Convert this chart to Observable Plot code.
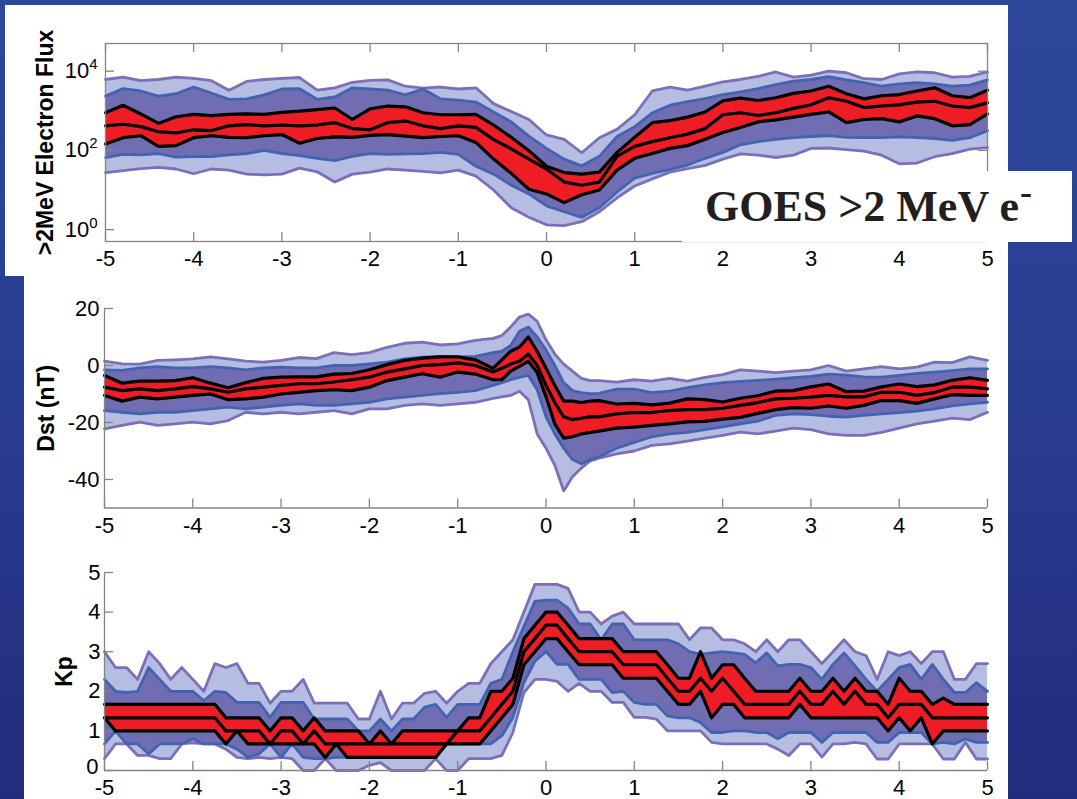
<!DOCTYPE html>
<html>
<head>
<meta charset="utf-8">
<script src="https://cdn.jsdelivr.net/npm/d3@7"></script>
<script src="https://cdn.jsdelivr.net/npm/@observablehq/plot@0.6"></script>
<style>
html,body{margin:0;padding:0;background:#26378a;}
#page{position:relative;width:1077px;height:799px;overflow:hidden;
  background:linear-gradient(180deg,#2e489c 0%,#293d90 50%,#212c7c 100%);
  font-family:"Liberation Sans",Arial,sans-serif;}
.white{position:absolute;background:#fff;}
.panel{position:absolute;left:0;}
#goes{position:absolute;left:682px;top:171px;width:390px;height:71px;background:#fff;
  font-family:"Liberation Serif","Times New Roman",serif;font-weight:bold;font-size:44px;
  color:#231f20;line-height:71px;padding-left:23px;box-sizing:border-box;white-space:nowrap;}
#goes .sup{font-size:36px;position:relative;top:-17px;margin-left:1px;}
</style>
</head>
<body>
<div id="page">
  <div class="white" style="left:5px;top:5px;width:1003px;height:271px"></div>
  <div class="white" style="left:24px;top:276px;width:984px;height:523px"></div>
  <div class="panel" id="p1" style="top:0px"></div>
  <div class="panel" id="p2" style="top:281px"></div>
  <div class="panel" id="p3" style="top:537px"></div>
  <div id="goes">GOES &gt;2 MeV e<span class="sup">-</span></div>
</div>
<script>
// ---------- tick labels ----------
const dayTicks = [-5,-4,-3,-2,-1,0,1,2,3,4,5];
const fluxTicks = [1, 100, 10000];
const fluxTickLabels = ["10\u2070", "10\u00b2", "10\u2074"];
const dstTicks = [-40, -20, 0, 20];
const kpTicks = [0, 1, 2, 3, 4, 5];

// ---------- Panel 1: GOES >2 MeV electron flux (values are log10 of flux) ----------
const fluxDay = [-5,-4.8,-4.6,-4.4,-4.2,-4,-3.8,-3.6,-3.4,-3.2,-3,-2.8,-2.6,-2.4,-2.2,-2,-1.8,-1.6,-1.4,-1.2,-1,
  -0.8,-0.6,-0.4,-0.2,0,0.2,0.4,0.6,0.8,1,
  1.2,1.4,1.6,1.8,2,2.2,2.4,2.6,2.8,3,3.2,3.4,3.6,3.8,4,4.2,4.4,4.6,4.8,5];
const fluxP95Exp = [3.79,3.85,3.76,3.79,3.85,3.82,3.76,3.52,3.74,3.79,3.82,3.84,3.52,3.58,3.72,3.77,3.78,3.62,3.57,3.60,3.55,
  3.58,3.18,2.98,2.78,2.39,2.28,1.94,2.32,2.53,2.90,
  3.50,3.60,3.52,3.62,3.73,3.79,3.87,3.98,3.85,3.90,4.00,3.96,3.81,3.79,3.93,3.98,3.96,3.85,3.87,3.98];
const fluxP75Exp = [3.37,3.56,3.50,3.37,3.43,3.60,3.45,3.29,3.30,3.40,3.55,3.56,3.29,3.35,3.58,3.55,3.52,3.40,3.55,3.30,3.27,
  3.22,2.97,2.72,2.36,2.05,1.78,1.61,1.85,2.35,2.60,
  2.95,3.14,3.23,3.31,3.41,3.48,3.56,3.66,3.75,3.79,3.86,3.78,3.71,3.62,3.68,3.71,3.68,3.62,3.65,3.78];
const fluxHiExp = [2.95,3.14,2.92,2.68,2.85,2.91,2.88,2.91,2.92,2.91,2.96,2.99,3.03,3.07,2.78,3.05,3.12,3.10,2.95,2.90,2.90,
  2.91,2.64,2.33,1.99,1.60,1.44,1.40,1.45,1.95,2.33,
  2.70,2.75,2.84,2.97,3.25,3.32,3.26,3.33,3.44,3.50,3.62,3.43,3.30,3.38,3.41,3.50,3.58,3.38,3.33,3.52];
const fluxMedExp = [2.62,2.66,2.60,2.47,2.44,2.52,2.50,2.62,2.65,2.62,2.64,2.62,2.64,2.70,2.55,2.52,2.70,2.74,2.62,2.55,2.62,
  2.58,2.27,2.04,1.78,1.53,1.20,1.12,1.20,1.85,2.10,
  2.22,2.32,2.41,2.55,2.90,2.95,2.88,2.95,3.06,3.15,3.33,3.24,3.08,3.12,3.15,3.22,3.24,3.12,3.08,3.20];
const fluxLoExp = [2.16,2.32,2.37,2.10,2.12,2.32,2.37,2.33,2.32,2.37,2.40,2.18,2.30,2.34,2.33,2.38,2.40,2.36,2.32,2.35,2.37,
  2.20,1.78,1.42,1.02,0.90,0.68,0.88,1.00,1.50,1.80,
  1.92,2.05,2.12,2.28,2.45,2.58,2.72,2.77,2.84,2.91,2.97,2.70,2.78,2.80,2.72,2.87,2.80,2.62,2.65,2.92];
const fluxP25Exp = [1.82,1.90,1.89,1.92,1.83,1.84,1.84,1.89,1.92,2.00,1.92,1.87,1.80,1.74,1.85,1.92,1.90,1.91,1.92,1.95,1.90,
  1.60,1.40,1.12,0.90,0.60,0.45,0.31,0.55,0.95,1.30,
  1.42,1.52,1.63,1.80,1.95,2.14,2.22,2.28,2.32,2.35,2.37,2.33,2.32,2.32,2.34,2.32,2.30,2.25,2.32,2.50];
const fluxP05Exp = [1.44,1.49,1.54,1.57,1.53,1.41,1.53,1.50,1.40,1.38,1.40,1.55,1.46,1.20,1.40,1.45,1.53,1.50,1.47,1.43,1.50,
  1.35,1.00,0.55,0.31,0.12,0.10,0.20,0.45,0.80,1.10,
  1.28,1.45,1.54,1.62,1.78,1.91,1.88,1.82,1.88,2.05,2.06,2.02,1.98,1.88,1.66,1.68,1.84,1.92,2.03,2.07];

// ---------- Panel 2: Dst (nT) ----------
const dstDay = [-5,-4.8,-4.6,-4.4,-4.2,-4,-3.8,-3.6,-3.4,-3.2,-3,-2.8,-2.6,-2.4,-2.2,-2,-1.8,-1.6,-1.4,-1.2,-1,-0.8,
  -0.6,-0.5,-0.4,-0.3,-0.2,-0.1,0,0.1,0.2,0.3,0.4,0.5,0.6,
  0.8,1,1.2,1.4,1.6,1.8,2,2.2,2.4,2.6,2.8,3,3.2,3.4,3.6,3.8,4,4.2,4.4,4.6,4.8,5];
const dstP95 = [1.5,0.6,0.5,1.8,2.0,2.3,3.0,2.3,1.5,1.2,1.8,2.8,2.4,4.5,3.8,4.5,6.4,7.8,8.2,7.2,7.6,8.8,
  9.5,10.5,13.5,17.0,18.0,15.5,9.0,4.0,0.5,-2.0,-4.5,-5.3,-5.3,
  -5.8,-5.0,-5.5,-4.5,-5.5,-4.2,-3.2,-1.5,-2.0,-2.5,-2.0,-1.5,0.0,-2.0,-1.2,-0.4,-1.2,-0.6,1.2,1.0,3.0,1.8];
const dstP75 = [-1.5,-1.7,-0.8,-0.4,-0.8,-0.8,-0.4,-0.8,-1.5,-0.8,-0.6,-0.8,-0.8,0.0,0.0,0.6,1.2,2.3,2.9,3.2,3.0,3.2,
  4.5,5.0,7.0,12.0,13.5,10.0,5.5,0.0,-6.0,-8.8,-9.5,-9.9,-9.8,
  -8.3,-8.3,-9.5,-9.0,-7.8,-6.8,-6.0,-5.6,-5.2,-4.8,-4.3,-3.8,-3.0,-3.4,-4.0,-4.1,-3.5,-2.8,-2.3,-1.8,-1.2,-1.2];
const dstHi = [-3.5,-6.2,-5.5,-5.5,-5.3,-4.3,-6.2,-7.8,-6.0,-4.5,-4.1,-4.0,-4.0,-3.0,-2.8,-1.5,0.3,1.8,2.6,3.0,3.0,2.0,
  -1.0,2.0,5.0,6.5,10.0,5.0,-1.0,-7.0,-12.5,-12.5,-13.0,-12.5,-12.3,
  -13.5,-13.3,-13.8,-13.2,-11.7,-12.0,-12.8,-11.5,-10.6,-9.0,-8.8,-7.5,-6.5,-9.2,-9.0,-7.5,-6.5,-7.4,-6.8,-5.2,-4.3,-5.2];
const dstMed = [-7.6,-8.8,-8.2,-8.8,-8.2,-7.4,-8.2,-9.4,-8.2,-7.6,-7.0,-6.4,-6.4,-5.8,-5.0,-4.1,-2.3,-1.2,0.0,0.3,0.9,0.0,
  -2.3,-1.0,0.5,1.5,4.0,0.0,-7.0,-13.0,-18.0,-19.0,-18.5,-18.0,-18.0,
  -17.0,-16.5,-16.5,-15.8,-15.5,-15.5,-15.0,-14.0,-13.0,-11.7,-11.5,-11.1,-10.5,-11.0,-11.0,-9.4,-9.4,-10.5,-9.5,-7.6,-7.6,-8.2];
const dstLo = [-10.5,-12.5,-11.1,-11.7,-11.1,-10.5,-10.0,-12.0,-11.7,-11.1,-10.0,-9.4,-8.8,-8.5,-8.8,-7.6,-5.3,-4.1,-2.9,-4.1,-2.3,-3.0,
  -5.0,-5.0,-2.0,-0.3,1.5,-2.5,-11.0,-20.5,-25.5,-25.0,-24.0,-23.5,-23.0,
  -22.0,-21.6,-21.0,-20.5,-19.8,-19.6,-18.8,-18.2,-16.8,-15.5,-14.8,-15.0,-14.2,-15.0,-14.0,-12.3,-12.3,-13.3,-11.7,-10.2,-10.5,-10.5];
const dstP25 = [-15.8,-16.4,-17.0,-16.4,-16.4,-15.8,-15.2,-14.6,-15.2,-14.6,-14.0,-13.5,-14.0,-14.0,-13.5,-12.9,-11.7,-11.1,-10.5,-9.9,-9.4,-8.8,
  -7.0,-6.0,-5.0,-4.2,-3.5,-8.5,-18.0,-24.0,-29.0,-33.0,-34.5,-33.0,-32.0,
  -29.0,-27.0,-25.0,-24.0,-23.5,-22.5,-21.5,-20.5,-19.5,-17.5,-17.0,-17.2,-17.8,-18.1,-17.5,-17.0,-16.5,-16.0,-15.2,-14.2,-13.5,-12.9];
const dstP05 = [-22.2,-21.0,-19.9,-21.0,-20.5,-19.9,-20.5,-19.3,-16.4,-17.0,-16.4,-17.0,-16.4,-15.8,-17.0,-15.2,-15.2,-14.0,-13.5,-14.0,-13.5,-12.9,
  -11.5,-11.0,-10.5,-9.0,-12.0,-24.0,-29.0,-35.0,-44.0,-39.0,-36.0,-33.5,-32.5,
  -31.0,-30.0,-28.0,-27.5,-26.5,-25.5,-24.5,-23.4,-24.0,-23.0,-22.0,-22.5,-24.0,-24.5,-24.5,-23.5,-22.0,-20.5,-19.5,-18.5,-19.0,-16.4];

// ---------- Panel 3: Kp (3-hourly) ----------
const kpDay = [-5,-4.875,-4.75,-4.625,-4.5,-4.375,-4.25,-4.125,-4,-3.875,-3.75,-3.625,-3.5,-3.375,-3.25,-3.125,
  -3,-2.875,-2.75,-2.625,-2.5,-2.375,-2.25,-2.125,-2,-1.875,-1.75,-1.625,-1.5,-1.375,-1.25,-1.125,
  -1,-0.875,-0.75,-0.625,-0.5,-0.375,-0.25,-0.125,0,0.125,0.25,0.375,0.5,0.625,0.75,0.875,
  1,1.125,1.25,1.375,1.5,1.625,1.75,1.875,2,2.125,2.25,2.375,2.5,2.625,2.75,2.875,
  3,3.125,3.25,3.375,3.5,3.625,3.75,3.875,4,4.125,4.25,4.375,4.5,4.625,4.75,4.875,5];
const kpP95 = [3.0,2.6,2.6,2.3,3.0,2.7,2.3,2.6,2.3,2.0, 2.7,2.6,2.7,2.2,2.2,1.7,2.0,2.0,2.3,1.7,
  1.7,1.7,1.7,1.3,1.3,2.0,1.3,1.7,1.7,1.95, 2.0,1.7,2.0,2.2,2.2,2.7,3.0,3.3,4.0,4.7,
  4.7,4.7,4.6,4.0,4.0,3.7,3.9,4.0,3.7,3.7, 3.7,3.7,3.7,3.3,3.6,3.6,3.3,3.3,3.2,3.0,
  3.3,3.0,3.3,3.3,3.0,2.7,3.0,3.3,3.0,2.9, 2.3,3.0,2.9,3.0,2.7,3.0,3.0,2.3,2.3,2.7, 2.7];
const kpP75 = [2.3,2.0,1.97,2.0,2.6,2.3,2.0,2.0,2.0,1.76, 2.0,1.97,1.72,1.72,1.72,1.34,1.72,1.72,1.72,1.3,
  1.3,1.3,1.3,1.0,1.0,1.3,1.0,1.3,1.3,1.6, 1.67,1.34,1.67,1.67,1.67,2.2,2.3,3.0,3.64,4.27,
  4.3,4.3,4.1,3.7,3.7,3.3,3.7,3.7,3.3,3.3, 3.3,3.3,3.2,3.0,2.93,2.97,3.0,2.97,2.93,2.72,
  2.97,2.64,2.68,2.68,2.6,2.3,2.68,2.97,2.64,2.3, 2.0,2.3,2.6,2.68,2.3,2.68,2.3,1.97,1.97,2.22, 2.0];
const kpHi = [1.67,1.67,1.67,1.67,1.67,1.67,1.67,1.67,1.67,1.67, 1.67,1.33,1.33,1.33,1.33,1.0,1.33,1.33,1.0,1.33,
  1.0,1.0,1.0,1.0,0.67,1.0,0.67,1.0,1.0,1.0, 1.0,1.0,1.0,1.33,1.33,2.0,2.0,2.33,3.33,3.67,
  4.0,4.0,3.67,3.33,3.33,3.33,3.33,3.0,3.0,3.0, 3.0,2.67,2.33,2.33,3.0,2.33,2.67,2.67,2.33,2.0,
  2.0,2.0,2.0,2.33,2.0,2.0,2.33,2.0,2.33,2.0, 2.0,1.67,2.33,2.0,2.0,1.67,1.83,1.67,1.67,1.67, 1.67];
const kpMed = [1.33,1.33,1.33,1.33,1.33,1.33,1.33,1.33,1.33,1.33, 1.33,1.0,1.0,1.0,1.0,0.67,1.0,1.0,0.67,1.0,
  0.67,0.67,0.67,0.67,0.67,0.67,0.67,0.67,0.67,0.67, 0.67,0.67,1.0,1.0,1.0,1.33,1.67,2.0,3.0,3.33,
  3.67,3.67,3.33,3.0,3.0,3.0,3.0,2.67,2.67,2.67, 2.67,2.33,2.0,2.0,2.33,2.0,2.33,2.0,1.67,1.67,
  1.67,1.67,1.67,2.0,1.67,1.67,2.0,1.67,2.0,1.67, 1.67,1.33,1.67,1.67,1.67,1.33,1.33,1.33,1.33,1.33, 1.33];
const kpLo = [1.33,1.0,1.0,1.0,1.0,1.0,1.0,1.0,1.0,1.0, 1.0,0.67,1.0,0.67,0.67,0.67,0.67,0.67,0.67,0.67,
  0.33,0.67,0.33,0.33,0.33,0.33,0.33,0.33,0.33,0.33, 0.33,0.67,0.67,0.67,0.67,1.0,1.33,1.67,2.67,3.0,
  3.33,3.33,3.0,2.67,2.67,2.67,2.67,2.33,2.33,2.33, 2.33,2.0,1.67,1.67,2.0,1.33,1.67,1.67,1.33,1.33,
  1.33,1.33,1.33,1.67,1.33,1.33,1.33,1.33,1.33,1.33, 1.33,1.0,1.33,1.0,1.33,0.67,1.0,1.0,1.0,1.0, 1.0];
const kpP25 = [0.67,1.0,0.67,0.67,0.42,0.67,0.67,0.67,0.8,0.67, 0.67,0.67,0.54,0.33,0.42,0.67,0.33,0.67,0.33,0.3,
  0.3,0.33,0.33,0.33,0.33,0.46,0.33,0.33,0.33,0.33, 0.33,0.67,0.67,0.67,0.67,0.67,0.88,1.34,2.22,2.76,
  3.0,2.68,2.68,2.3,2.3,2.3,1.97,2.0,1.72,1.67, 1.67,1.38,1.33,1.33,1.21,0.96,0.96,1.0,1.0,0.96,
  0.96,0.8,0.96,0.96,0.96,0.71,0.96,0.96,0.96,0.96, 0.71,0.71,0.96,0.96,0.96,0.67,0.71,0.67,0.8,0.71, 0.71];
const kpP05 = [0.3,0.67,0.67,0.38,0.38,0.3,0.3,0.67,0.7,0.67, 0.67,0.54,0.33,0.3,0.33,0.3,0.33,0.3,0.0,0.0,
  0.3,0.0,0.0,0.0,0.13,0.2,0.0,0.0,0.0,0.0, 0.3,0.0,0.0,0.3,0.3,0.3,0.38,0.96,1.97,2.3,
  2.3,2.25,2.0,2.2,2.0,2.0,1.72,1.72,1.34,1.34, 1.3,1.0,1.0,1.0,1.0,0.71,0.67,0.67,0.67,0.67,
  0.67,0.54,0.38,0.67,0.67,0.34,0.67,0.67,0.71,0.67, 0.29,0.29,0.67,0.67,0.67,0.67,0.29,0.29,0.71,0.29, 0.29];

// ---------- styling ----------
const GRAY = "#858585";
const LIGHT = "#b5bee2", DARK = "#716db2", PURPLE = "#7a6fb8", BLUE = "#4263b1", RED = "#ee1c25";
const FONT = "'Liberation Sans', Arial, Helvetica, sans-serif";

function table(day, s) {
  return day.map((t, i) => ({t, p05: s.p05[i], p25: s.p25[i], lo: s.lo[i], med: s.med[i], hi: s.hi[i], p75: s.p75[i], p95: s.p95[i]}));
}
const pow10 = a => a.map(v => Math.pow(10, v));
const fluxRows = table(fluxDay, {p05: pow10(fluxP05Exp), p25: pow10(fluxP25Exp), lo: pow10(fluxLoExp), med: pow10(fluxMedExp), hi: pow10(fluxHiExp), p75: pow10(fluxP75Exp), p95: pow10(fluxP95Exp)});
const dstRows = table(dstDay, {p05: dstP05, p25: dstP25, lo: dstLo, med: dstMed, hi: dstHi, p75: dstP75, p95: dstP95});
const kpRows = table(kpDay, {p05: kpP05, p25: kpP25, lo: kpLo, med: kpMed, hi: kpHi, p75: kpP75, p95: kpP95});

function bandMarks(rows) {
  return [
    Plot.areaY(rows, {x: "t", y1: "p05", y2: "p95", fill: LIGHT}),
    Plot.areaY(rows, {x: "t", y1: "p25", y2: "p75", fill: DARK}),
    Plot.lineY(rows, {x: "t", y: "p95", stroke: PURPLE, strokeWidth: 2.8}),
    Plot.lineY(rows, {x: "t", y: "p05", stroke: PURPLE, strokeWidth: 2.8}),
    Plot.lineY(rows, {x: "t", y: "p75", stroke: BLUE, strokeWidth: 2.8}),
    Plot.lineY(rows, {x: "t", y: "p25", stroke: BLUE, strokeWidth: 2.8}),
    Plot.areaY(rows, {x: "t", y1: "lo", y2: "hi", fill: RED}),
    Plot.lineY(rows, {x: "t", y: "hi", stroke: "black", strokeWidth: 3.2}),
    Plot.lineY(rows, {x: "t", y: "med", stroke: "black", strokeWidth: 3.2}),
    Plot.lineY(rows, {x: "t", y: "lo", stroke: "black", strokeWidth: 3.2})
  ];
}

function panel(o) {
  const fw = 987 - o.mLeft;
  const fh = o.height - o.mTop - o.mBottom;
  const yMain = o.bottomLabelLift ? o.yTicks.filter(d => d !== o.yDomain[0]) : o.yTicks;
  const marks = [
    ...bandMarks(o.rows),
    Plot.ruleX(dayTicks, {x: d => d, insetTop: fh - 9, stroke: GRAY, strokeWidth: 1.3}),
    Plot.ruleY(o.yTicks, {y: d => d, insetRight: fw - 9, stroke: GRAY, strokeWidth: 1.3}),
    Plot.axisX({ticks: dayTicks, tickSize: 0, tickPadding: o.xPad, tickFormat: d => String(d), label: null, fontSize: 22}),
    Plot.axisY({ticks: yMain, tickSize: 0, tickPadding: o.yPad, tickFormat: o.yFmt, label: null, fontSize: 22}),
    Plot.text([o.label], {text: d => d, frameAnchor: "left", dx: o.labelDx, rotate: -90, textAnchor: "middle", lineAnchor: "middle", fontWeight: "bold", fontSize: 23, fill: "black"})
  ];
  if (o.bottomLabelLift) {
    // the lowest y label sits just above the first x label, as in the original
    marks.push(Plot.axisY({ticks: [o.yDomain[0]], tickSize: 0, tickPadding: o.yPad + 2, dy: -o.bottomLabelLift, tickFormat: o.yFmt, label: null, fontSize: 22}));
  }
  if (o.box) {
    marks.push(
      Plot.ruleX(dayTicks, {x: d => d, insetBottom: fh - 9, stroke: GRAY, strokeWidth: 1.3}),
      Plot.ruleY(o.yTicks, {y: d => d, insetLeft: fw - 9, stroke: GRAY, strokeWidth: 1.3}),
      Plot.frame({stroke: GRAY, strokeWidth: 1.3})
    );
  } else {
    marks.push(
      Plot.ruleX([-5], {stroke: GRAY, strokeWidth: 1.3}),
      Plot.ruleY([o.yDomain[0]], {stroke: GRAY, strokeWidth: 1.3})
    );
  }
  return Plot.plot({
    width: 1077, height: o.height,
    marginLeft: o.mLeft, marginRight: 1077 - 987, marginTop: o.mTop, marginBottom: o.mBottom,
    x: {domain: [-5, 5]},
    y: {type: o.yType, domain: o.yDomain},
    style: {fontFamily: FONT, fontSize: "22px", color: "#000", background: "none", overflow: "visible"},
    marks
  });
}

const chart1 = panel({
  rows: fluxRows, height: 281, mLeft: 105, mTop: 43, mBottom: 40,
  yType: "log", yDomain: [0.5, 50000], yTicks: fluxTicks,
  yFmt: d => fluxTickLabels[fluxTicks.indexOf(d)],
  xPad: 9, yPad: 8, label: ">2MeV Electron Flux", labelDx: -60, box: true
});
// render the exponent of "10ⁿ" as a raised, smaller tspan (still real text)
const supDigit = {"\u2070": "0", "\u00b2": "2", "\u2074": "4"};
chart1.querySelectorAll("text").forEach(t => {
  const m = /^10([\u2070\u00b2\u2074])$/.exec(t.textContent);
  if (m) {
    t.textContent = "10";
    const s = document.createElementNS("http://www.w3.org/2000/svg", "tspan");
    s.setAttribute("dy", "-9");
    s.setAttribute("font-size", "15");
    s.textContent = supDigit[m[1]];
    t.appendChild(s);
  }
});
document.getElementById("p1").append(chart1);

document.getElementById("p2").append(panel({
  rows: dstRows, height: 256, mLeft: 104, mTop: 27, mBottom: 29.5,
  yType: "linear", yDomain: [-50, 20], yTicks: dstTicks,
  yFmt: d => String(d),
  xPad: 9, yPad: 5, label: "Dst (nT)", labelDx: -58, box: false
}));
document.getElementById("p3").append(panel({
  rows: kpRows, height: 262, mLeft: 104, mTop: 35, mBottom: 29,
  yType: "linear", yDomain: [0, 5], yTicks: kpTicks,
  yFmt: d => String(d),
  xPad: 9, yPad: 4, label: "Kp", labelDx: -40, box: false, bottomLabelLift: 4
}));
</script>
</body>
</html>
